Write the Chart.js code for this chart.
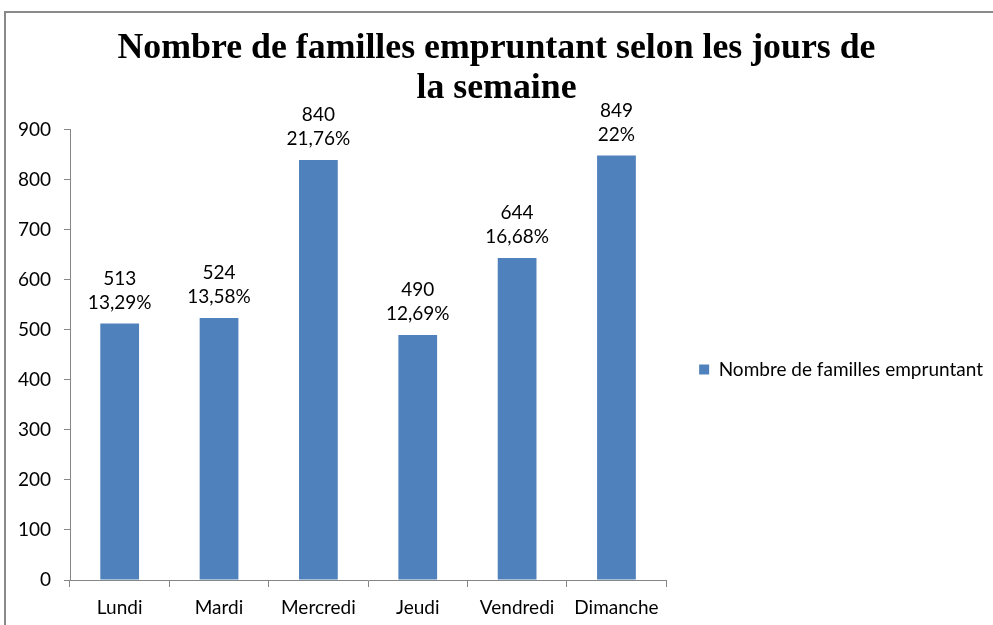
<!DOCTYPE html>
<html>
<head>
<meta charset="utf-8">
<script src="https://cdn.jsdelivr.net/npm/chart.js@4/dist/chart.umd.min.js"></script>
<style>
  html, body { margin: 0; padding: 0; background: #fff; }
  #wrap { width: 993px; height: 625px; position: relative; }
</style>
</head>
<body>
<div id="wrap"><canvas id="c" width="993" height="625"></canvas></div>
<script>
const categories = ['Lundi', 'Mardi', 'Mercredi', 'Jeudi', 'Vendredi', 'Dimanche'];
const familles = [513, 524, 840, 490, 644, 849];
const pourcentages = ['13,29%', '13,58%', '21,76%', '12,69%', '16,68%', '22%'];
const seriesName = 'Nombre de familles empruntant';
const titleLines = ['Nombre de familles empruntant selon les jours de', 'la semaine'];

const LABEL_FONT = 'Lato, "Open Sans", sans-serif';
const AXIS_GRAY = '#868686';

const frame = {
  id: 'frame',
  beforeDraw(chart) {
    const ctx = chart.ctx;
    ctx.save();
    ctx.strokeStyle = '#8a8a8a';
    ctx.lineWidth = 2;
    ctx.beginPath();
    ctx.moveTo(5, 625);
    ctx.lineTo(5, 12);
    ctx.lineTo(993, 12);
    ctx.stroke();
    ctx.restore();
  }
};

const barLabels = {
  id: 'barLabels',
  afterDatasetsDraw(chart) {
    const ctx = chart.ctx;
    const meta = chart.getDatasetMeta(0);
    ctx.save();
    ctx.fillStyle = '#000';
    ctx.font = '19px ' + LABEL_FONT;
    ctx.textAlign = 'center';
    ctx.textBaseline = 'middle';
    meta.data.forEach((bar, i) => {
      ctx.fillText(String(familles[i]), bar.x, bar.y - 45);
      ctx.fillText(pourcentages[i], bar.x, bar.y - 21);
    });
    ctx.restore();
  }
};

new Chart(document.getElementById('c'), {
  type: 'bar',
  data: {
    labels: categories,
    datasets: [{
      label: seriesName,
      data: familles,
      backgroundColor: '#4F81BD',
      borderWidth: 0,
      barPercentage: 0.39,
      categoryPercentage: 1.0
    }]
  },
  options: {
    responsive: false,
    animation: false,
    layout: { padding: { left: 0, right: 0, top: 0, bottom: 0 } },
    plugins: {
      title: {
        display: true,
        text: titleLines,
        color: '#000',
        font: { family: '"Liberation Serif", "DejaVu Serif", serif', size: 35.8, weight: 'bold', lineHeight: 1.117 },
        padding: { top: 29, bottom: 21 }
      },
      legend: {
        position: 'right',
        maxWidth: 329,
        title: { display: true, text: ' ', font: { size: 10, lineHeight: 1.4 }, padding: { top: 50, bottom: 50 } },
        labels: {
          boxWidth: 10,
          boxHeight: 10,
          padding: 33,
          color: '#000',
          font: { family: LABEL_FONT, size: 19 }
        }
      },
      tooltip: { enabled: false }
    },
    scales: {
      x: {
        afterFit(scale) { scale.height = 45; },
        grid: { display: true, offset: true, drawOnChartArea: false, drawTicks: true, tickLength: 7, color: AXIS_GRAY },
        border: { display: true, color: AXIS_GRAY },
        ticks: { color: '#000', padding: 9, font: { family: LABEL_FONT, size: 19 } }
      },
      y: {
        min: 0,
        max: 900,
        afterFit(scale) { scale.width = 70; },
        grid: { display: true, drawOnChartArea: false, drawTicks: true, tickLength: 6, color: AXIS_GRAY },
        border: { display: true, color: AXIS_GRAY },
        ticks: { stepSize: 100, color: '#000', padding: 13, font: { family: LABEL_FONT, size: 19 } }
      }
    }
  },
  plugins: [frame, barLabels]
});
</script>
</body>
</html>
